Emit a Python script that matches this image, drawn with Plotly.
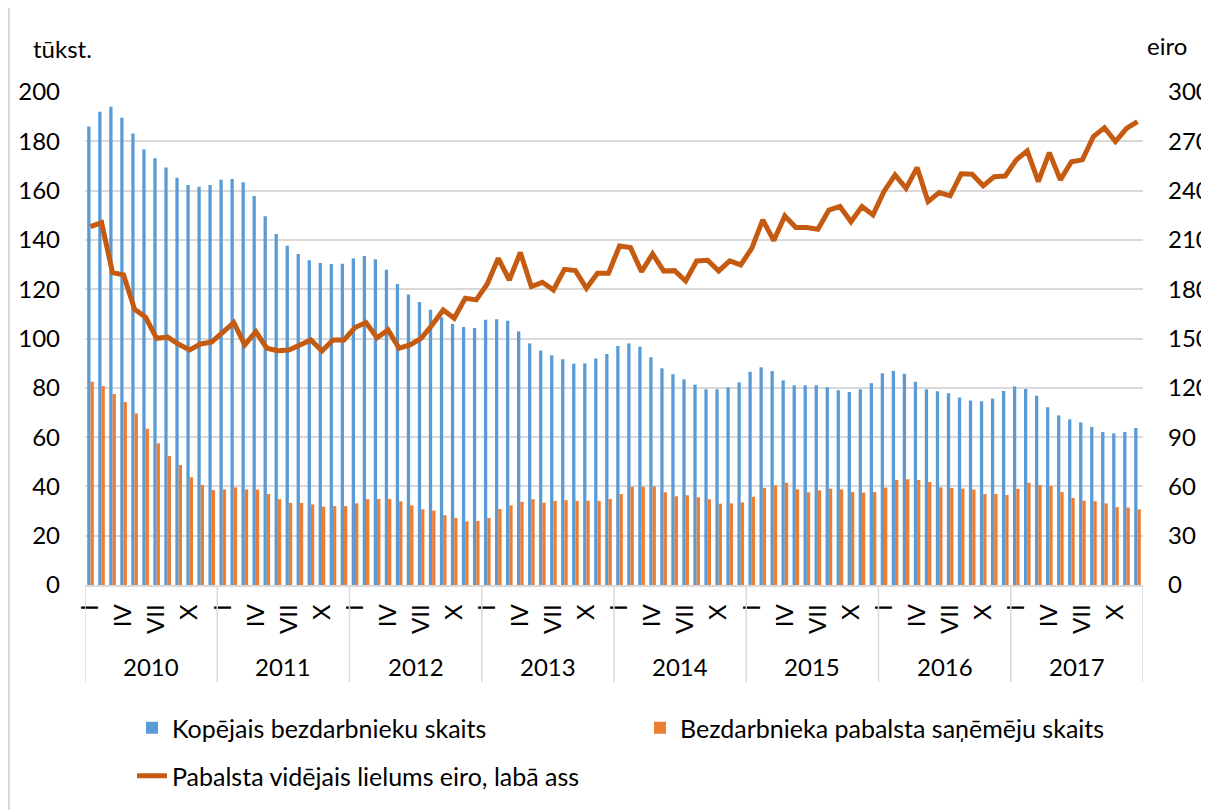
import plotly.graph_objects as go

years = ["2010", "2011", "2012", "2013", "2014", "2015", "2016", "2017"]
months = ["I", "II", "III", "IV", "V", "VI", "VII", "VIII", "IX", "X", "XI", "XII"]
shown_months = ["I", "IV", "VII", "X"]

total_unemployed = [
    186.0, 192.0, 194.0, 189.6, 183.2, 176.7, 173.1, 169.4, 165.2, 162.3, 161.6, 162.3,
    164.4, 164.7, 163.4, 157.8, 149.6, 142.4, 137.6, 134.3, 131.7, 130.6, 130.2, 130.3,
    132.5, 133.5, 132.1, 127.9, 122.1, 117.8, 114.8, 111.7, 108.6, 105.9, 104.7, 104.3,
    107.6, 107.8, 107.2, 102.9, 98.0, 95.1, 93.2, 91.6, 89.8, 89.9, 91.9, 93.7,
    97.0, 98.0, 96.7, 92.4, 87.9, 85.5, 83.4, 81.3, 79.4, 79.4, 80.2, 82.2,
    86.5, 88.3, 86.8, 83.0, 81.0, 81.0, 81.0, 80.2, 79.0, 78.3, 79.4, 81.9,
    85.9, 86.8, 85.7, 82.5, 79.4, 78.6, 77.8, 76.1, 74.8, 74.5, 75.7, 78.7,
    80.5, 79.5, 76.8, 72.1, 68.8, 67.2, 66.0, 64.1, 62.1, 61.5, 62.1, 63.7,
]

benefit_recipients = [
    82.5, 80.7, 77.5, 74.2, 69.6, 63.4, 57.5, 52.3, 48.7, 43.7, 40.6, 38.5,
    38.8, 39.6, 38.8, 38.7, 36.9, 34.8, 33.3, 33.3, 32.7, 31.8, 32.0, 32.0,
    33.1, 34.8, 34.9, 34.9, 34.0, 32.3, 30.7, 30.2, 28.3, 27.2, 25.8, 26.0,
    27.2, 30.8, 32.3, 33.7, 34.8, 33.4, 34.1, 34.4, 34.1, 34.2, 34.1, 34.9,
    36.9, 39.8, 39.8, 40.0, 37.6, 36.0, 36.4, 35.6, 34.8, 33.0, 33.1, 33.5,
    35.8, 39.4, 40.4, 41.5, 38.8, 37.6, 38.4, 39.1, 38.8, 37.7, 37.5, 37.7,
    39.5, 42.6, 42.9, 42.6, 41.8, 39.6, 39.4, 39.1, 38.7, 36.9, 36.9, 36.5,
    39.0, 41.5, 40.6, 40.2, 37.7, 35.3, 34.2, 34.0, 33.1, 31.6, 31.4, 30.7,
]

avg_benefit_eur = [
    218.1, 220.5, 190.1, 188.7, 167.8, 162.9, 150.1, 150.8, 146.5, 143.0, 146.7, 147.9,
    153.8, 159.7, 146.1, 154.2, 144.1, 142.6, 143.0, 146.1, 149.1, 142.4, 149.1, 149.1,
    156.7, 159.7, 150.5, 155.2, 144.1, 146.1, 150.1, 158.2, 167.4, 162.3, 174.5, 173.5,
    183.2, 198.8, 185.6, 202.3, 181.6, 184.2, 179.5, 192.1, 191.3, 180.6, 189.7, 189.7,
    206.3, 205.3, 190.7, 201.5, 191.1, 191.3, 185.0, 197.2, 197.6, 191.1, 197.2, 194.8,
    204.9, 222.2, 209.6, 224.6, 217.5, 217.5, 216.5, 228.2, 230.3, 221.1, 230.3, 225.2,
    239.5, 249.5, 241.4, 254.0, 233.3, 238.8, 236.8, 250.2, 250.0, 242.9, 248.5, 248.9,
    258.7, 264.1, 245.5, 263.1, 246.5, 257.6, 258.7, 272.9, 278.3, 269.8, 277.9, 282.0,
]

names = [
    "Kopējais bezdarbnieku skaits",
    "Bezdarbnieka pabalsta saņēmēju skaits",
    "Pabalsta vidējais lielums eiro, labā ass",
]

# category keys
cats = [f"{y}-{m}" for y in years for m in months]
tickvals = [f"{y}-{m}" for y in years for m in months if m in shown_months]
ticktext = [c.split("-")[1] for c in tickvals]

FONT = "Lato, 'Open Sans', sans-serif"
FS = 24
GRID = "#d9d9d9"
OFF = 8  # browser default body margin
PAGE_W, PAGE_H = 1209, 810
W, H = PAGE_W - OFF, PAGE_H - OFF
# plot area in page pixels
PX0, PX1, PY0, PY1 = 85, 1143, 92, 585
L, R, T, B = PX0 - OFF, W - (PX1 - OFF), PY0 - OFF, H - (PY1 - OFF)
plot_w = PX1 - PX0
plot_h = PY1 - PY0


def px_x(p):
    return (p - PX0) / plot_w


def px_y(p):
    return (PY1 - p) / plot_h


fig = go.Figure()
fig.add_trace(go.Bar(x=cats, y=total_unemployed, name=names[0],
                     marker=dict(color="#5B9BD5", line=dict(width=0)), legend="legend"))
fig.add_trace(go.Bar(x=cats, y=benefit_recipients, name=names[1],
                     marker=dict(color="#ED7D31", line=dict(width=0)), legend="legend2"))
fig.add_trace(go.Scatter(x=cats, y=avg_benefit_eur, name=names[2], yaxis="y2",
                         mode="lines", line=dict(color="#C55A11", width=5),
                         legend="legend3"))

shapes = []
n_years = len(years)
n_months = len(months)
for k in range(n_years + 1):
    shapes.append(dict(type="line", xref="x", yref="paper",
                       x0=k * n_months - 0.5, x1=k * n_months - 0.5,
                       y0=0, y1=px_y(682), line=dict(color=GRID, width=1.5)))
# outer frame left edge
shapes.append(dict(type="line", xref="paper", yref="paper",
                   x0=px_x(9), x1=px_x(9), y0=px_y(812), y1=px_y(0),
                   line=dict(color=GRID, width=2)))

annotations = []
for k, y in enumerate(years):
    annotations.append(dict(x=k * n_months + (n_months - 1) / 2, y=px_y(666),
                            xref="x", yref="paper", text=y, showarrow=False,
                            font=dict(size=FS, color="#000", family=FONT),
                            xanchor="center", yanchor="middle"))
annotations.append(dict(x=px_x(62), y=px_y(48), xref="paper", yref="paper",
                        text="tūkst.", showarrow=False,
                        font=dict(size=FS, color="#000", family=FONT),
                        xanchor="center", yanchor="middle"))
annotations.append(dict(x=px_x(1167), y=px_y(45), xref="paper", yref="paper",
                        text="eiro", showarrow=False,
                        font=dict(size=FS, color="#000", family=FONT),
                        xanchor="center", yanchor="middle"))

legend_common = dict(orientation="h", font=dict(size=25, color="#000", family=FONT),
                     bgcolor="rgba(0,0,0,0)", xanchor="left", yanchor="middle")

fig.update_layout(
    width=W, height=H,
    margin=dict(l=L, r=R, t=T, b=B, pad=0, autoexpand=False),
    paper_bgcolor="white", plot_bgcolor="white",
    barmode="group", bargap=0.4, bargroupgap=0.0,
    font=dict(family=FONT, size=FS, color="#000"),
    xaxis=dict(type="category", categoryorder="array", categoryarray=cats,
               range=[-0.5, len(cats) - 0.5], automargin=False,
               tickmode="array", tickvals=tickvals, ticktext=ticktext,
               tickangle=-90, ticks="", showgrid=False,
               showline=True, linecolor=GRID, linewidth=1.5,
               tickfont=dict(size=FS, color="#000", family=FONT),
               ticklabelstandoff=8, zeroline=False),
    yaxis=dict(range=[0, 200], dtick=20, tick0=0, showgrid=True, gridcolor=GRID,
               gridwidth=1.5, zeroline=False, showline=False, ticks="", automargin=False,
               tickfont=dict(size=FS, color="#000", family=FONT),
               ticklabelstandoff=24),
    yaxis2=dict(range=[0, 300], dtick=30, tick0=0, overlaying="y", side="right",
                showgrid=False, zeroline=False, showline=False, ticks="", automargin=False,
                tickfont=dict(size=FS, color="#000", family=FONT),
                ticklabelstandoff=24),
    legend=dict(x=px_x(132), y=px_y(728), **legend_common),
    legend2=dict(x=px_x(640), y=px_y(728), **legend_common),
    legend3=dict(x=px_x(132), y=px_y(776), **legend_common),
    shapes=shapes,
    annotations=annotations,
    showlegend=True,
)

fig.write_html("out.html")
